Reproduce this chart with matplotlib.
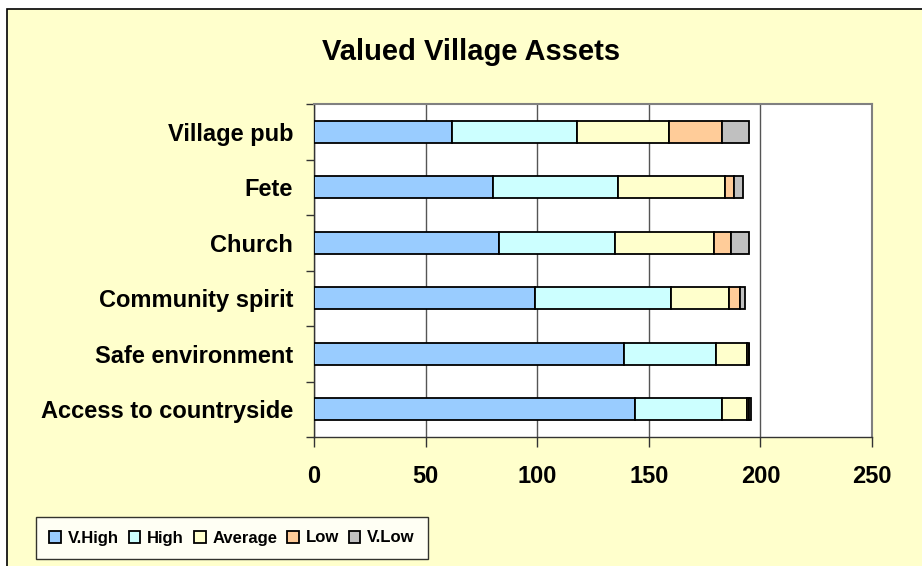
import matplotlib
matplotlib.use("Agg")
import matplotlib.pyplot as plt
from matplotlib.patches import Rectangle
import numpy as np

# --------------------------
# Data
# --------------------------
categories = ["Access to countryside", "Safe environment", "Community spirit",
              "Church", "Fete", "Village pub"]
series_names = ["V.High", "High", "Average", "Low", "V.Low"]
v_high = [144, 139, 99, 83, 80, 62]
high = [39, 41, 61, 52, 56, 56]
average = [11, 14, 26, 44, 48, 41]
low = [1, 1, 5, 8, 4, 24]
v_low = [1, 0, 2, 8, 4, 12]
x_ticks = [0, 50, 100, 150, 200, 250]

colors = ["#99CCFF", "#CCFFFF", "#FFFFCC", "#FFCC99", "#C0C0C0"]
bg = "#FFFFCC"

plt.rcParams['font.family'] = ['Liberation Sans', 'DejaVu Sans']
plt.rcParams['font.weight'] = 'bold'

W, H = 922, 566
fig = plt.figure(figsize=(W / 100, H / 100), dpi=100, facecolor="white")

# chart area frame (cropped on right and bottom)
fig.patches.append(Rectangle((7 / W, -0.1), 1.2, (H - 9) / H + 0.1,
                             transform=fig.transFigure, facecolor=bg,
                             edgecolor="black", linewidth=1.2, zorder=-10))

ax = fig.add_axes([314 / W, 1 - 437 / H, (872 - 314) / W, (437 - 104) / H])
ax.set_facecolor("white")

y = np.arange(len(categories))
left = np.zeros(len(categories))
for name, vals, c in zip(series_names, [v_high, high, average, low, v_low], colors):
    vals = np.array(vals, dtype=float)
    ax.barh(y, vals, left=left, height=0.4, color=c, edgecolor="black",
            linewidth=1.3, label=name, zorder=3)
    left += vals

ax.set_xlim(0, 250)
ax.set_ylim(-0.5, len(categories) - 0.5)
ax.set_xticks(x_ticks)
ax.set_xticklabels([str(t) for t in x_ticks], fontsize=17, fontweight='bold')
ax.tick_params(axis='x', direction='out', length=7, width=1, color='#333333', pad=13)
ax.xaxis.grid(True, color='#555555', linewidth=1, zorder=0)

# category boundary ticks, labels at centres
ax.set_yticks(np.arange(len(categories) + 1) - 0.5)
ax.set_yticklabels([])
ax.tick_params(axis='y', which='major', direction='out', length=6, width=1, color='#333333')
ax.set_yticks(y, minor=True)
ax.set_yticklabels(categories, minor=True, fontsize=17, fontweight='bold')
ax.tick_params(axis='y', which='minor', length=0, pad=15)

for s in ['top', 'right']:
    ax.spines[s].set_color('#808080')
    ax.spines[s].set_linewidth(1.5)
for s in ['left', 'bottom']:
    ax.spines[s].set_color('#333333')
    ax.spines[s].set_linewidth(1)

fig.text(471 / W, 1 - 60 / H, "Valued Village Assets", ha='center', va='baseline',
         fontsize=21, fontweight='bold')

leg = fig.legend(loc='center', bbox_to_anchor=(232 / W, 1 - 538 / H), ncol=5,
                 frameon=True, fancybox=False, edgecolor='black',
                 prop={'size': 12, 'weight': 'bold'},
                 handlelength=0.7, handleheight=0.7, handletextpad=0.4,
                 columnspacing=0.6, borderpad=0.8, borderaxespad=0)
leg.get_frame().set_linewidth(1)

fig.savefig("out.png", dpi=100, facecolor=fig.get_facecolor())
